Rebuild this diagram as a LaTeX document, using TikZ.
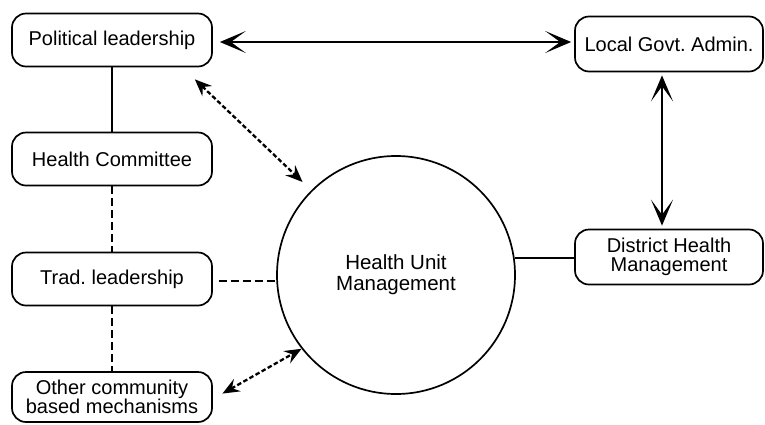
\documentclass[tikz,border=0pt]{standalone}
\usepackage{fontspec}
\setmainfont{Liberation Sans}
\usetikzlibrary{arrows.meta}
\frenchspacing
\begin{document}
\begin{tikzpicture}[x=1pt,y=-1pt,
  box/.style={draw,line width=1.7pt,rounded corners=14pt,minimum width=200pt,
    minimum height=53pt,inner sep=0pt,align=center,
    font=\fontsize{20}{19}\selectfont},
  rbox/.style={box,minimum width=188pt,minimum height=55pt},
  hub/.style={draw,circle,line width=1.7pt,minimum size=238pt,inner sep=0pt,
    align=center,font=\fontsize{20.5}{21}\selectfont},
  solidlink/.style={line width=1.7pt},
  dashlink/.style={line width=1.7pt,dash pattern=on 8pt off 4pt},
  twoway/.style={line width=1.8pt,{Stealth[length=26pt,width=22pt,inset=15pt]}-{Stealth[length=26pt,width=22pt,inset=15pt]}},
  dotarrow/.style={line width=2.3pt,dash pattern=on 4.5pt off 2.5pt,
    {Stealth[length=17pt,width=14pt,inset=6pt]}-{Stealth[length=17pt,width=14pt,inset=6pt]}}]
\useasboundingbox (0,0) rectangle (765,424);

% left column of community bodies
\node[box] (pol) at (112,40) {Political leadership};
\node[box] (hc) at (112,159) {Health Committee};
\node[box] (trad) at (112,279) {Trad. leadership};
\node[box,minimum height=50pt] (oth) at (112,397) {Other community\\based mechanisms};

% right column of administrative bodies
\node[rbox] (lga) at (669,44) {Local Govt. Admin.};
\node[rbox] (dhm) at (669,257) {District Health\\Management};

% central unit
\node[hub] (hum) at (396,275) {Health Unit\\Management};

% links
\draw[twoway,shorten <=7pt,shorten >=3pt] (pol.east |- 0,42) -- (lga.west |- 0,42);
\draw[twoway,shorten <=3pt,shorten >=3pt] ([xshift=-7pt]lga.south) -- ([xshift=-7pt]dhm.north);
\draw[solidlink] (pol) -- (hc);
\draw[dashlink] (hc) -- (trad);
\draw[dashlink] (trad) -- (oth);
\draw[dashlink,shorten <=6pt] (trad.east |- hum.183.4) -- (hum.183.4);
\draw[solidlink] (hum.8.2) -- (hum.8.2 -| dhm.west);
\draw[dotarrow,shorten >=12pt] ([shift={(-18,12)}]pol.south east) -- (hum.135);
\draw[dotarrow,shorten <=11pt] ([yshift=-2pt]oth.east) -- (hum.218);
\end{tikzpicture}
\end{document}
